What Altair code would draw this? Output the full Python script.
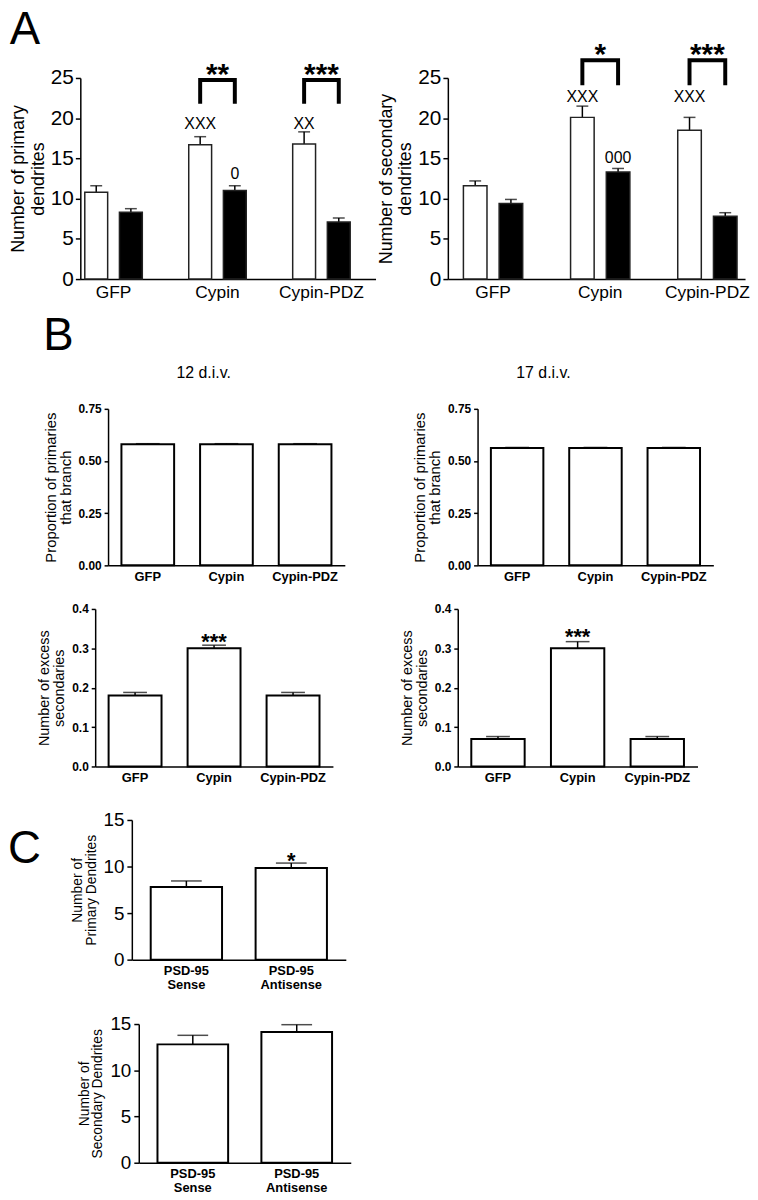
import altair as alt
import pandas as pd

FONT = "Liberation Sans"

# ---------------- Panel A data ----------------
a_groups = ["GFP", "Cypin", "Cypin-PDZ"]

prim_white = [10.8, 16.7, 16.8]
prim_white_sem = [0.8, 1.0, 1.5]
prim_black = [8.3, 11.0, 7.1]
prim_black_sem = [0.45, 0.6, 0.5]

sec_white = [11.6, 20.1, 18.5]
sec_white_sem = [0.6, 1.4, 1.6]
sec_black = [9.4, 13.3, 7.8]
sec_black_sem = [0.5, 0.45, 0.45]

prim_note_group = ["Cypin", "Cypin", "Cypin-PDZ"]
prim_note_series = ["white", "black", "white"]
prim_note_text = ["XXX", "0", "XX"]
prim_note_y = [18.7, 12.4, 18.7]

sec_note_group = ["Cypin", "Cypin", "Cypin-PDZ"]
sec_note_series = ["white", "black", "white"]
sec_note_text = ["XXX", "000", "XXX"]
sec_note_y = [22.0, 14.4, 22.0]

bracket_groups = ["Cypin", "Cypin-PDZ"]
prim_bracket_stars = ["**", "***"]
prim_bracket_top = 24.75
prim_bracket_bottom = 21.8
sec_bracket_stars = ["*", "***"]
sec_bracket_top = 27.2
sec_bracket_bottom = 24.1

# ---------------- Panel B data ----------------
b_groups = ["GFP", "Cypin", "Cypin-PDZ"]
prop12 = [0.58, 0.58, 0.58]
prop12_sem = [0.003, 0.003, 0.003]
prop17 = [0.562, 0.562, 0.562]
prop17_sem = [0.003, 0.003, 0.003]
exc12 = [0.18, 0.30, 0.18]
exc12_sem = [0.008, 0.008, 0.008]
exc17 = [0.07, 0.30, 0.07]
exc17_sem = [0.006, 0.017, 0.006]
no_stars = ["", "", ""]
exc_stars = ["", "***", ""]

# ---------------- Panel C data ----------------
c_groups = ["PSD-95 Sense", "PSD-95 Antisense"]
c_primary = [7.8, 9.85]
c_primary_sem = [0.65, 0.52]
c_secondary = [12.8, 14.15]
c_secondary_sem = [0.98, 0.78]
c_primary_stars = ["", "*"]
c_secondary_stars = ["", ""]

slots = []
for i, g in enumerate(a_groups):
    slots += [f"{g}|white", f"{g}|black"]
    if i < len(a_groups) - 1:
        slots.append(f"gap{i}")


def panel_a(white, white_sem, black, black_sem, n_group, n_series, n_text, n_y,
            stars, btop, bbot, ytitle, width, height, p_out, p_align, title=None):
    rows = []
    for i, g in enumerate(a_groups):
        rows.append(dict(slot=f"{g}|white", series="white", value=white[i], top=white[i] + white_sem[i]))
        rows.append(dict(slot=f"{g}|black", series="black", value=black[i], top=black[i] + black_sem[i]))
    df = pd.DataFrame(rows)
    p_in = 0.34
    step = width / (len(slots) - p_in + 2 * p_out)
    xs = alt.Scale(domain=slots, paddingInner=p_in, paddingOuter=p_out, align=p_align)
    ys = alt.Scale(domain=[0, 25], nice=False)
    xaxis = alt.Axis(values=[f"{g}|white" for g in a_groups],
                     labelExpr="split(datum.value, '|')[0]", labelOffset=step / 2,
                     ticks=False, labelAngle=0, labelFontSize=17.5, labelPadding=5, title=None)
    yaxis = alt.Axis(values=[0, 5, 10, 15, 20, 25], tickSize=5, labelFontSize=21, labelPadding=2,
                     title=ytitle, titleFontSize=18, titleLineHeight=20, titlePadding=3)
    X = alt.X("slot:N", scale=xs, axis=xaxis)

    def Y(f):
        return alt.Y(f, scale=ys, axis=yaxis)

    bars = alt.Chart(df).mark_bar(stroke="#222", strokeWidth=1.5).encode(
        x=X, y=Y("value:Q"),
        fill=alt.Fill("series:N", scale=alt.Scale(domain=["white", "black"], range=["white", "black"]), legend=None),
    )
    err = alt.Chart(df).mark_rule(color="black", strokeWidth=1.5).encode(x=X, y=Y("value:Q"), y2="top:Q")
    caps = alt.Chart(df).mark_tick(color="black", thickness=1.5, size=12).encode(x=X, y=Y("top:Q"))
    notes = pd.DataFrame({"slot": [f"{g}|{s}" for g, s in zip(n_group, n_series)], "y": n_y, "text": n_text})
    note_txt = alt.Chart(notes).mark_text(fontSize=16, baseline="alphabetic").encode(
        x=X, y=Y("y:Q"), text="text:N")
    brows = []
    for k, g in enumerate(bracket_groups):
        brows += [dict(bid=k, ord=0, slot=f"{g}|white", y=bbot),
                  dict(bid=k, ord=1, slot=f"{g}|white", y=btop),
                  dict(bid=k, ord=2, slot=f"{g}|black", y=btop),
                  dict(bid=k, ord=3, slot=f"{g}|black", y=bbot)]
    bdf = pd.DataFrame(brows)
    brackets = alt.Chart(bdf).mark_line(color="black", strokeWidth=4, strokeJoin="miter", strokeCap="butt").encode(
        x=X, y=Y("y:Q"), detail="bid:N", order="ord:Q")
    sdf = pd.DataFrame({"slot": [f"{g}|white" for g in bracket_groups], "y": [btop] * len(bracket_groups), "text": stars})
    star_txt = alt.Chart(sdf).mark_text(fontSize=30, fontWeight="bold", baseline="alphabetic", dx=step / 2, dy=4).encode(
        x=X, y=Y("y:Q"), text="text:N")
    ch = alt.layer(err, bars, caps, note_txt, brackets, star_txt).properties(width=width, height=height)
    if title is not None:
        ch = ch.properties(title=title)
    return ch


def simple_panel(cats, vals, sems, stars, width, height, ydom, yvals, yfmt, ytitle,
                 tick_font, tick_weight, ytitle_font, ytitle_lh, x_font, cap,
                 p_in, p_out, star_font, star_dy, tick_size, bar_stroke,
                 top_title=None, top_title_x=0, title=None, split=False):
    df = pd.DataFrame({"cat": cats, "value": vals,
                       "top": [v + s for v, s in zip(vals, sems)], "stars": stars})
    xs = alt.Scale(domain=cats, paddingInner=p_in, paddingOuter=p_out)
    ys = alt.Scale(domain=ydom, nice=False)
    xargs = dict(ticks=False, labelAngle=0, labelFontSize=x_font, labelFontWeight="bold",
                 labelPadding=5, title=None)
    if split:
        xargs.update(labelExpr="split(datum.label, ' ')", labelLineHeight=14)
    xaxis = alt.Axis(**xargs)
    yaxis = alt.Axis(values=yvals, format=yfmt, tickSize=tick_size, labelFontSize=tick_font,
                     labelFontWeight=tick_weight, labelPadding=3, title=ytitle,
                     titleFontSize=ytitle_font, titleLineHeight=ytitle_lh, titlePadding=5)

    def Y(f):
        return alt.Y(f, scale=ys, axis=yaxis)

    X = alt.X("cat:N", scale=xs, axis=xaxis)
    if top_title is not None:
        Xother = alt.X("cat:N", scale=xs, axis=None)
        Xtop = alt.X("cat:N", scale=xs, axis=alt.Axis(
            orient="top", title=top_title, labels=False, ticks=False, domain=False,
            titleFontSize=16, titleFontWeight="normal", titlePadding=29, titleX=top_title_x,
            minExtent=0, maxExtent=0))
    else:
        Xother = X
        Xtop = X
    bars = alt.Chart(df).mark_bar(fill="white", stroke="black", strokeWidth=bar_stroke).encode(
        x=X, y=Y("value:Q"))
    err = alt.Chart(df).mark_rule(color="black", strokeWidth=1.5).encode(
        x=Xother, y=Y("value:Q"), y2="top:Q")
    caps = alt.Chart(df).mark_tick(color="black", thickness=1.5, size=cap).encode(
        x=Xtop, y=Y("top:Q"))
    star_txt = alt.Chart(df).mark_text(fontSize=star_font, fontWeight="bold", baseline="alphabetic", dy=star_dy).encode(
        x=Xother, y=Y("top:Q"), text="stars:N")
    ch = alt.layer(err, bars, caps, star_txt).properties(width=width, height=height)
    if top_title is not None:
        ch = ch.resolve_axis(x="independent")
    if title is not None:
        ch = ch.properties(title=title)
    return ch


def spacer(w, h=1, title=None):
    ch = alt.Chart(pd.DataFrame({"t": [""]})).mark_text().encode(text="t:N").properties(width=w, height=h)
    if title is not None:
        ch = ch.properties(title=title)
    return ch


letter = dict(anchor="start", frame="bounds", fontSize=46, fontWeight="normal", font=FONT, color="black")

A_L = panel_a(prim_white, prim_white_sem, prim_black, prim_black_sem,
              prim_note_group, prim_note_series, prim_note_text, prim_note_y,
              prim_bracket_stars, prim_bracket_top, prim_bracket_bottom,
              ["Number of primary", "dendrites"], 298, 203, 0.43, 0.15,
              title=alt.TitleParams("A", offset=6, **letter))
A_R = panel_a(sec_white, sec_white_sem, sec_black, sec_black_sem,
              sec_note_group, sec_note_series, sec_note_text, sec_note_y,
              sec_bracket_stars, sec_bracket_top, sec_bracket_bottom,
              ["Number of secondary", "dendrites"], 300, 203, 0.33, 0.66)

bt_common = dict(height=158, ydom=[0, 0.75], yvals=[0, 0.25, 0.5, 0.75], yfmt=".2f",
                 ytitle=["Proportion of primaries", "that branch"], tick_font=12, tick_weight="bold",
                 ytitle_font=15, ytitle_lh=15, x_font=13, cap=24, p_in=0.33, p_out=0.17,
                 star_font=22, star_dy=4, tick_size=4, bar_stroke=2)
BT_L = simple_panel(b_groups, prop12, prop12_sem, no_stars, width=239, top_title="12 d.i.v.",
                    top_title_x=96, title=alt.TitleParams("B", offset=4, **letter), **bt_common)
BT_R = simple_panel(b_groups, prop17, prop17_sem, no_stars, width=238, top_title="17 d.i.v.",
                    top_title_x=66, **bt_common)

bb_common = dict(height=159, ydom=[0, 0.4], yvals=[0, 0.1, 0.2, 0.3, 0.4], yfmt=".1f",
                 ytitle=["Number of excess", "secondaries"], tick_font=12, tick_weight="bold",
                 ytitle_font=14.5, ytitle_lh=15, x_font=13, cap=24, p_in=0.33, p_out=0.17,
                 star_font=22, tick_size=4, bar_stroke=2)
BB_L = simple_panel(b_groups, exc12, exc12_sem, exc_stars, width=240, star_dy=4, **bb_common)
BB_R = simple_panel(b_groups, exc17, exc17_sem, exc_stars, width=242, star_dy=2, **bb_common)

c_common = dict(ydom=[0, 15], yvals=[0, 5, 10, 15], yfmt="d", tick_font=19, tick_weight="normal",
                ytitle_font=14, ytitle_lh=14, x_font=13, cap=31, p_in=0.32, p_out=0.18,
                star_font=22, star_dy=5, tick_size=5, bar_stroke=2, split=True)
C_T = simple_panel(c_groups, c_primary, c_primary_sem, c_primary_stars, width=216, height=141,
                   ytitle=["Number of", "Primary Dendrites"], **c_common)
C_B = simple_panel(c_groups, c_secondary, c_secondary_sem, c_secondary_stars, width=214, height=140,
                   ytitle=["Number of", "Secondary Dendrites"], **c_common)

rowA = alt.hconcat(spacer(1), A_L, spacer(1), A_R, spacing=0)
rowBT = alt.hconcat(spacer(35), BT_L, spacer(68), BT_R, spacing=0)
rowBB = alt.hconcat(spacer(29), BB_L, spacer(67), BB_R, spacing=0)
rowCT = alt.hconcat(spacer(62, 1, alt.TitleParams("C", orient="bottom", offset=2, **letter)), C_T, spacing=0)
rowCB = alt.hconcat(spacer(69), C_B, spacing=0)

chart = alt.vconcat(
    rowA, spacer(1, 1), rowBT, spacer(1, 20), rowBB, spacer(1, 27), rowCT, spacer(1, 20), rowCB,
    spacing=0,
).properties(padding={"top": -6, "left": 0, "right": 0, "bottom": 0}).configure(font=FONT).configure_view(
    strokeWidth=0
).configure_axis(
    grid=False, domainColor="black", tickColor="black", labelColor="black", titleColor="black",
    domainWidth=1.5, tickWidth=1.5, titleFontWeight="normal", labelFont=FONT, titleFont=FONT,
).configure_title(font=FONT, color="black")

chart.save("out.html", embed_options={"renderer": "svg", "actions": False})
